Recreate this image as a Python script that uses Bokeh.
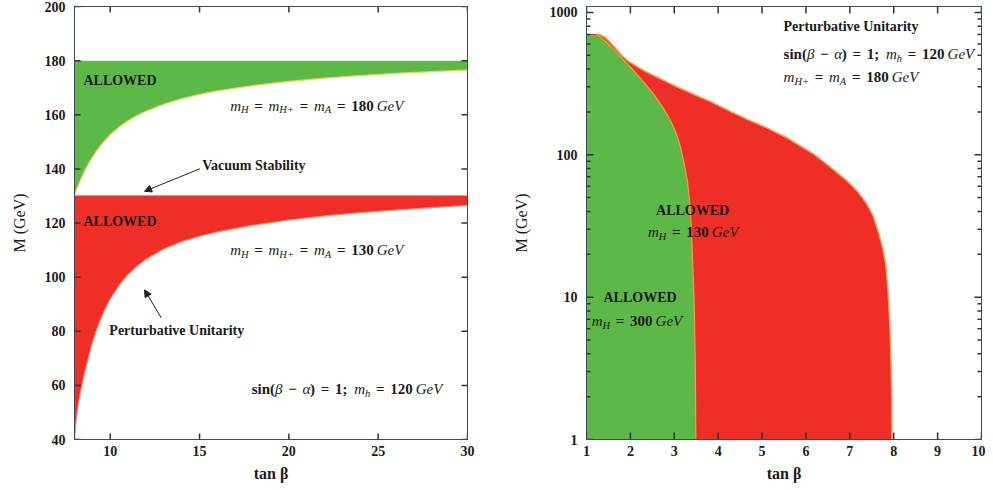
import math
from bokeh.plotting import figure
from bokeh.models import (ColumnDataSource, FixedTicker, LinearAxis, LogAxis, Range1d,
                          Arrow, NormalHead, CustomJSTickFormatter)
from bokeh.layouts import row
from bokeh.embed import file_html
from bokeh.resources import INLINE
from bokeh.core.properties import value

# ---------------- data ----------------
# Left panel: lower edges of the allowed bands vs tan(beta)
tanb_left = [8, 8.05, 8.1, 8.2, 8.35, 8.5, 8.75, 9, 9.25, 9.5, 9.75, 10, 10.5, 11, 11.5, 12, 13, 14,
             15, 16, 18, 20, 22, 24, 26, 28, 30]
m_low_180 = [130, 131, 132, 133.8, 136.2, 138.3, 141.5, 144.3, 146.8, 149, 150.9, 152.6, 155.5, 157.8,
             159.7, 161.3, 163.9, 165.9, 167.5, 168.8, 170.8, 172.3, 173.5, 174.5, 175.3, 175.9, 176.5]
m_low_130 = [40, 44, 47.5, 52.5, 58, 62.8, 69.5, 75.8, 80.8, 85, 88.7, 91.9, 97, 101, 104, 106.6,
             110.4, 113.1, 115.1, 116.7, 119.2, 121.1, 122.6, 123.8, 124.8, 125.7, 126.5]
m_top_180 = 180
m_top_130 = 130

# Right panel: allowed regions (tan(beta) edge vs M)
green_M = [1, 2, 4, 6, 10, 17, 25, 38, 50, 65, 85, 111, 140, 170, 210, 261, 320, 392, 470, 554,
           620, 670, 693]
green_tanb = [3.49, 3.485, 3.475, 3.465, 3.45, 3.42, 3.40, 3.37, 3.34, 3.30, 3.23, 3.15, 3.05, 2.93,
              2.76, 2.55, 2.32, 2.07, 1.83, 1.61, 1.45, 1.32, 1.22]
red_M = [1, 2, 3.4, 5, 7.5, 11, 17, 22, 28, 38, 47, 55, 65, 80, 100, 130, 155, 175, 200, 235, 265,
         299, 340, 391, 447, 500, 560, 620, 668, 690, 705]
red_tanb = [7.96, 7.955, 7.94, 7.925, 7.90, 7.87, 7.82, 7.75, 7.66, 7.52, 7.35, 7.18, 6.95, 6.6, 6.2,
            5.6, 5.1, 4.7, 4.3, 3.84, 3.45, 3.07, 2.7, 2.30, 1.98, 1.8, 1.66, 1.53, 1.42, 1.34, 1.24]

xlim_left = (8, 30)
ylim_left = (40, 200)
xlim_right = (1, 10)
ylim_right = (1, 1100)
xticks_left = [10, 15, 20, 25, 30]
yticks_left = [40, 60, 80, 100, 120, 140, 160, 180, 200]
xticks_right = [1, 2, 3, 4, 5, 6, 7, 8, 9, 10]
yticks_right = [1, 10, 100, 1000]
yminor_right = [k * d for d in (1, 10, 100) for k in range(2, 10)]

GREEN = "#5cb947"
RED = "#ee2e27"
FRAME = "#3d4a58"
TXT = "#1a1a1a"
SERIF = "Liberation Serif"

# approximate advance widths (em) for composing math labels
W_RM = {'0': .5, '1': .5, '2': .5, '3': .5, '8': .5, '=': .57, '(': .333, ')': .333, ';': .333,
        's': .389, 'i': .278, 'n': .556, '\u2212': .57, '+': .57}
W_IT = {'m': .722, 'h': .5, 'H': .722, 'A': .611, 'G': .722, 'e': .444, 'V': .611,
        '\u03b2': .5, '\u03b1': .5, '+': .675}
G = ("", 0.38)
S = ("", 0.2)


def add_math(p, x, y, parts, size=15, align="left"):
    pieces = []
    cur = 0.0
    for t, k in parts:
        if isinstance(k, float):
            cur += k * size
            continue
        if k == "sub":
            fs = 0.7 * size
            w = sum(W_IT.get(c, .5) for c in t) * fs
            pieces.append((t, cur, 0.28 * size, fs, "italic"))
        elif k == "it":
            w = sum(W_IT.get(c, .5) for c in t) * size
            pieces.append((t, cur, 0.0, size, "italic"))
        else:
            w = sum(W_RM.get(c, .5) for c in t) * size
            pieces.append((t, cur, 0.0, size, "bold"))
        cur += w
    shift = -cur / 2 if align == "center" else 0.0
    n = len(pieces)
    src = ColumnDataSource(dict(
        x=[x] * n, y=[y] * n, text=[q[0] for q in pieces],
        xo=[q[1] + shift for q in pieces], yo=[q[2] + 0.33 * size for q in pieces],
        fs=["%.1fpx" % q[3] for q in pieces], st=[q[4] for q in pieces]))
    p.text(x="x", y="y", text="text", x_offset="xo", y_offset="yo", text_font_size="fs",
           text_font_style="st", text_font=value(SERIF), text_baseline="alphabetic",
           text_align="left", text_color=TXT, source=src)


def add_words(p, x, y, s, align="left", size="14px"):
    p.text(x=[x], y=[y], text=[s], text_font=value(SERIF), text_font_style="bold",
           text_font_size=size, text_align=align, text_baseline="middle", text_color=TXT)


def inner_ticks(p, xticks, yticks, xlim, ylim, ylog, length_px, frame_px, width=1.5):
    """Tick marks pointing into the frame on all four sides, drawn as multi_line paths.
    frame_px = (frame width, frame height) in pixels, used to turn a pixel length into data units."""
    fw, fh = frame_px
    dx = (xlim[1] - xlim[0]) / fw * length_px
    xs, ys = [], []
    if xticks:
        if ylog:
            k = (math.log10(ylim[1]) - math.log10(ylim[0])) / fh * length_px
            b0, b1 = ylim[0], ylim[0] * 10 ** k
            t0, t1 = ylim[1], ylim[1] / 10 ** k
        else:
            d = (ylim[1] - ylim[0]) / fh * length_px
            b0, b1, t0, t1 = ylim[0], ylim[0] + d, ylim[1], ylim[1] - d
        for t in xticks:
            xs += [[t, t], [t, t]]
            ys += [[b0, b1], [t0, t1]]
    for t in yticks:
        xs += [[xlim[0], xlim[0] + dx], [xlim[1], xlim[1] - dx]]
        ys += [[t, t], [t, t]]
    p.multi_line(xs=xs, ys=ys, line_color="#2a3440", line_width=width)


def style(p):
    p.outline_line_color = FRAME
    p.outline_line_width = 1
    p.xgrid.visible = False
    p.ygrid.visible = False
    p.background_fill_color = "white"
    p.border_fill_color = "white"


def style_axis(ax, labels=True):
    ax.axis_line_color = FRAME
    ax.major_tick_line_color = None
    ax.minor_tick_line_color = None
    ax.major_tick_in = 0
    ax.major_tick_out = 0
    ax.minor_tick_in = 0
    ax.minor_tick_out = 0
    ax.major_label_text_font = SERIF
    ax.major_label_text_font_style = "bold"
    ax.major_label_text_font_size = "14px"
    ax.major_label_text_color = TXT
    ax.axis_label_text_font = SERIF
    ax.axis_label_text_color = TXT
    ax.axis_label_text_font_size = "16px"
    if not labels:
        ax.formatter = CustomJSTickFormatter(code="return ''")
        ax.major_label_standoff = 0
        ax.major_label_text_font_size = "1px"


mhp = [("m", "it"), ("H", "sub"), G, ("=", "rm"), G, ("m", "it"), ("H+", "sub"), G, ("=", "rm"), G,
       ("m", "it"), ("A", "sub"), G, ("=", "rm"), G]
sinlab = [("sin(", "rm"), ("\u03b2", "it"), G, ("\u2212", "rm"), G, ("\u03b1", "it"), (")", "rm"), G,
          ("=", "rm"), G, ("1;", "rm"), ("", 0.45), ("m", "it"), ("h", "sub"), G, ("=", "rm"), G,
          ("120", "rm"), S, ("GeV", "it")]

H = 484

# ---------------- left panel ----------------
p1 = figure(width=493, height=H, x_range=Range1d(*xlim_left), y_range=Range1d(*ylim_left),
            output_backend="svg", toolbar_location=None,
            min_border_left=74, min_border_right=26, min_border_top=6, min_border_bottom=10)
style(p1)

p1.varea(x=tanb_left, y1=m_low_180, y2=[m_top_180] * len(tanb_left), fill_color=GREEN)
p1.line(x=tanb_left, y=m_low_180, line_color="#e2dc4a", line_width=1.2)
p1.varea(x=tanb_left, y1=m_low_130, y2=[m_top_130] * len(tanb_left), fill_color=RED)
p1.line(x=tanb_left, y=m_low_130, line_color="#f4876a", line_width=1.2)
p1.line(x=list(xlim_left), y=[m_top_130, m_top_130], line_color="#c8493a", line_width=1)
inner_ticks(p1, xticks_left, yticks_left, xlim_left, ylim_left, False, 6, (391, 432))

for ax in (p1.xaxis[0], p1.yaxis[0]):
    style_axis(ax)
p1.xaxis[0].ticker = FixedTicker(ticks=xticks_left)
p1.yaxis[0].ticker = FixedTicker(ticks=yticks_left)
p1.xaxis[0].axis_label = "tan \u03b2"
p1.xaxis[0].axis_label_text_font_style = "bold"
p1.yaxis[0].axis_label = "M (GeV)"
p1.yaxis[0].axis_label_text_font_style = "normal"
p1.xaxis[0].major_label_standoff = 6
p1.xaxis[0].axis_label_standoff = 6
p1.yaxis[0].major_label_standoff = 9
p1.yaxis[0].axis_label_standoff = 14
top1 = LinearAxis(ticker=FixedTicker(ticks=xticks_left))
right1 = LinearAxis(ticker=FixedTicker(ticks=yticks_left))
for ax in (top1, right1):
    style_axis(ax, labels=False)
p1.add_layout(top1, "above")
p1.add_layout(right1, "right")

add_words(p1, 8.5, 172.5, "ALLOWED")
add_words(p1, 8.5, 120.7, "ALLOWED")
add_math(p1, 21.56, 165.2, mhp + [("180", "rm"), S, ("GeV", "it")], align="center")
add_math(p1, 21.56, 111.8, mhp + [("130", "rm"), S, ("GeV", "it")], align="center")
add_words(p1, 15.15, 141.3, "Vacuum Stability")
add_words(p1, 9.95, 80.2, "Perturbative Unitarity")
add_math(p1, 17.92, 60.4, sinlab)
p1.add_layout(Arrow(end=NormalHead(size=7, fill_color="#222222", line_color="#222222"),
                    x_start=15.02, y_start=140.05, x_end=11.92, y_end=131.7,
                    line_color="#222222", line_width=1))
p1.add_layout(Arrow(end=NormalHead(size=7, fill_color="#222222", line_color="#222222"),
                    x_start=12.86, y_start=84.9, x_end=11.92, y_end=95.3,
                    line_color="#222222", line_width=1))

# ---------------- right panel ----------------
p2 = figure(width=492, height=H, x_range=Range1d(*xlim_right), y_range=Range1d(*ylim_right),
            y_axis_type="log", output_backend="svg", toolbar_location=None,
            min_border_left=93, min_border_right=4, min_border_top=6, min_border_bottom=10)
style(p2)

p2.harea(y=red_M, x1=[xlim_right[0]] * len(red_M), x2=red_tanb, fill_color=RED)
p2.line(x=red_tanb, y=red_M, line_color="#f5a050", line_width=1.5)
p2.harea(y=green_M, x1=[xlim_right[0]] * len(green_M), x2=green_tanb, fill_color=GREEN)
p2.line(x=green_tanb, y=green_M, line_color="#e8a63c", line_width=1.2)
inner_ticks(p2, xticks_right, yticks_right, xlim_right, ylim_right, True, 7, (392, 432))
inner_ticks(p2, [], yminor_right, xlim_right, ylim_right, True, 4, (392, 432))

for ax in (p2.xaxis[0], p2.yaxis[0]):
    style_axis(ax)
p2.xaxis[0].ticker = FixedTicker(ticks=xticks_right)
p2.yaxis[0].ticker = FixedTicker(ticks=yticks_right, minor_ticks=yminor_right)
p2.yaxis[0].formatter = CustomJSTickFormatter(code="return String(Math.round(tick));")
p2.xaxis[0].axis_label = "tan \u03b2"
p2.xaxis[0].axis_label_text_font_style = "bold"
p2.yaxis[0].axis_label = "M (GeV)"
p2.yaxis[0].axis_label_text_font_style = "normal"
p2.xaxis[0].major_label_standoff = 6
p2.xaxis[0].axis_label_standoff = 6
p2.yaxis[0].major_label_standoff = 9
p2.yaxis[0].axis_label_standoff = 17
top2 = LinearAxis(ticker=FixedTicker(ticks=xticks_right))
right2 = LogAxis(ticker=FixedTicker(ticks=yticks_right, minor_ticks=yminor_right))
for ax in (top2, right2):
    style_axis(ax, labels=False)
p2.add_layout(top2, "above")
p2.add_layout(right2, "right")

add_words(p2, 5.49, 802, "Perturbative Unitarity")
add_math(p2, 5.49, 553, sinlab)
add_math(p2, 5.49, 382, [("m", "it"), ("H+", "sub"), G, ("=", "rm"), G, ("m", "it"), ("A", "sub"), G,
                         ("=", "rm"), G, ("180", "rm"), S, ("GeV", "it")])
add_words(p2, 3.417, 40.7, "ALLOWED", align="center")
add_math(p2, 3.43, 31.1, [("m", "it"), ("H", "sub"), G, ("=", "rm"), G, ("130", "rm"), S, ("GeV", "it")],
         align="center")
add_words(p2, 2.22, 9.97, "ALLOWED", align="center")
add_math(p2, 2.15, 7.34, [("m", "it"), ("H", "sub"), G, ("=", "rm"), G, ("300", "rm"), S, ("GeV", "it")],
         align="center")

layout = row(p1, p2, spacing=0)
open("out.html", "w").write(file_html(layout, INLINE))
